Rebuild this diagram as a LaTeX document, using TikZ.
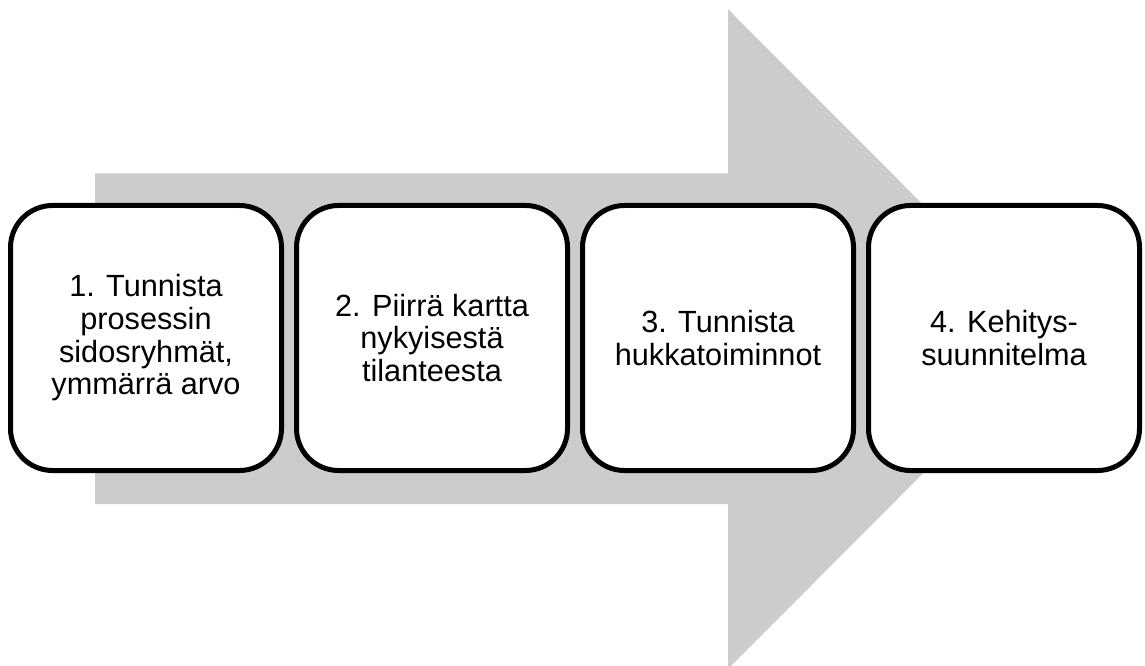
\documentclass[tikz,border=0pt]{standalone}
\usepackage{fontspec}
\setmainfont{Liberation Sans}
\usetikzlibrary{positioning}

\begin{document}
\begin{tikzpicture}[x=0.75pt,y=0.75pt,yscale=-1,xscale=1,
	stepbox/.style={draw=black,line width=3.75pt,fill=white,rounded corners=31.5pt,
		minimum width=203.25pt,minimum height=198.75pt,inner sep=0pt,align=center,
		font=\fontsize{23}{24.5}\selectfont}]
	\useasboundingbox (0,0) rectangle (1145,666);
	% big grey arrow behind the boxes
	\fill [color={rgb, 255:red, 204; green, 204; blue, 204 }] (95,173.5) -- (728,173.5) -- (728,9) -- (1057,339) -- (728,669) -- (728,504) -- (95,504) -- cycle ;
	% the four steps
	\node [stepbox] (s1) at (146,338) {1. Tunnista\\prosessin\\sidosryhmät,\\ymmärrä arvo};
	\node [stepbox] (s2) at (432,338) {2. Piirrä kartta\\nykyisestä\\tilanteesta};
	\node [stepbox] (s3) at (718,338) {3. Tunnista\\hukkatoiminnot};
	\node [stepbox] (s4) at (1004,338) {4. Kehitys-\\suunnitelma};
\end{tikzpicture}
\end{document}
